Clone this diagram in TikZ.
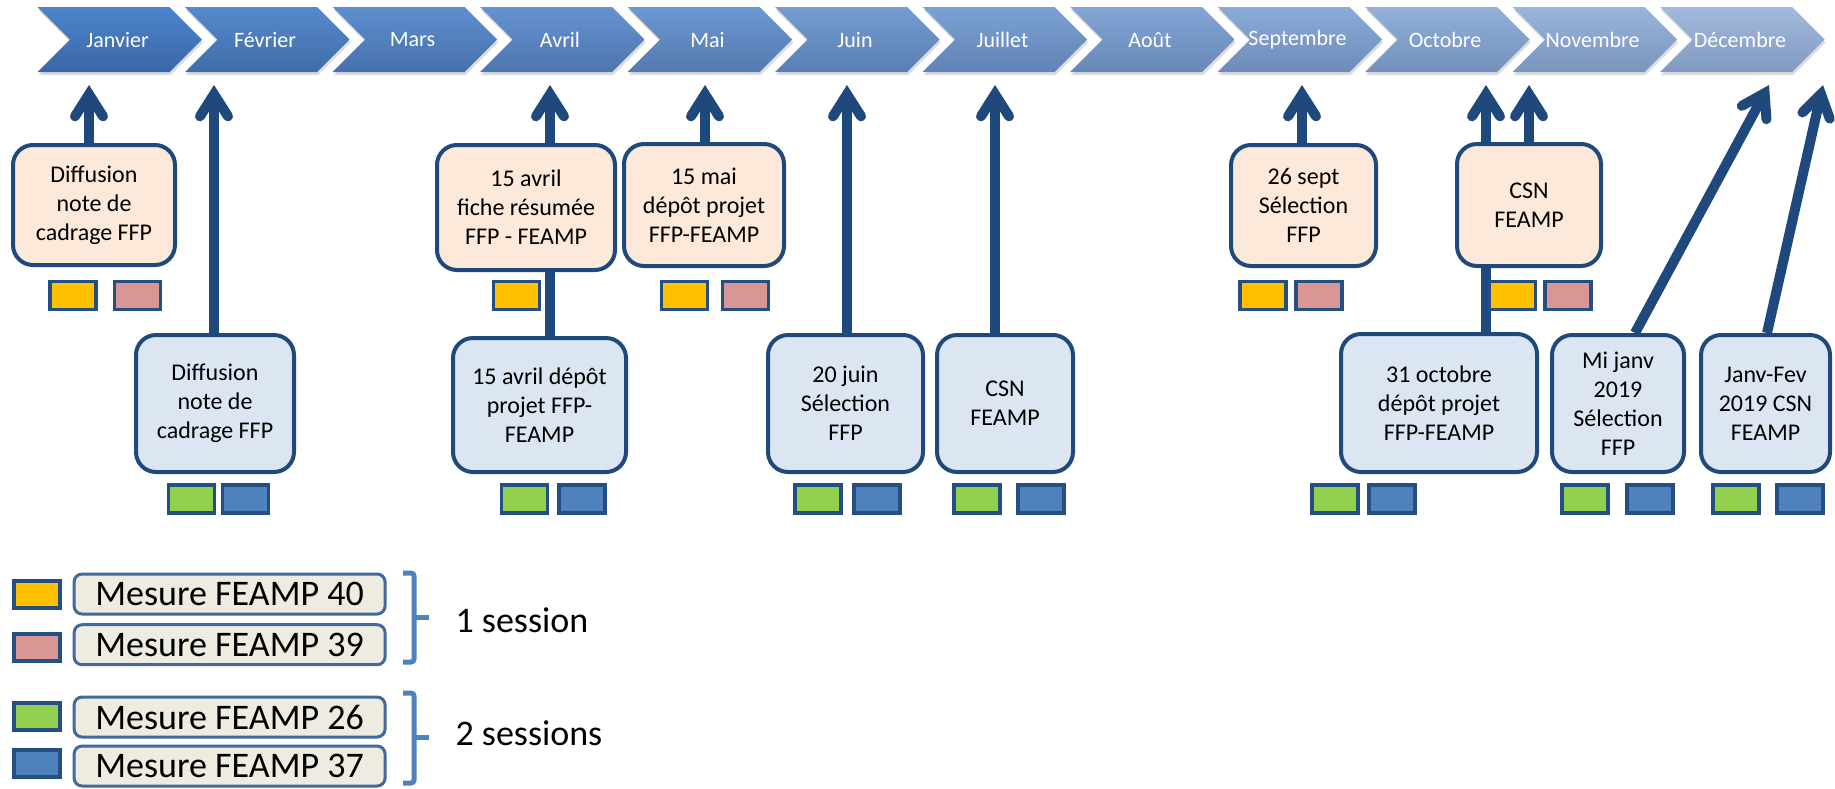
\documentclass[tikz,border=0pt]{standalone}
\usepackage{fontspec}
\setmainfont{Carlito}
\usetikzlibrary{arrows.meta,calc}
\definecolor{navy}{HTML}{1F497D}
\definecolor{peach}{HTML}{FDE9D9}
\definecolor{lblue}{HTML}{DCE6F2}
\definecolor{cyellow}{HTML}{FFC000}
\definecolor{cpink}{HTML}{D99694}
\definecolor{cgreen}{HTML}{92D050}
\definecolor{cblue}{HTML}{4F81BD}
\definecolor{sqborder}{HTML}{254E82}
\definecolor{legfill}{HTML}{EEECE1}
\definecolor{legborder}{HTML}{41699C}
\definecolor{bracecol}{HTML}{4F81BD}
\definecolor{ctopA}{HTML}{4D84CC}
\definecolor{cbotA}{HTML}{3A67A6}
\definecolor{ctopB}{HTML}{A2BADC}
\definecolor{cbotB}{HTML}{8099C0}
\pgfdeclarelayer{bg}
\pgfsetlayers{bg,main}
\begin{document}
\begin{tikzpicture}[x=1pt,y=-1pt,
  box/.style={draw=navy, line width=4pt, rounded corners=20pt, align=center, inner sep=2pt, font=\fontsize{24}{29}\selectfont},
  obox/.style={box, fill=peach},
  bbox/.style={box, fill=lblue},
  sq/.style={draw=sqborder, line width=3.5pt, minimum width=46pt, minimum height=28pt, inner sep=0pt},
  legsq/.style={draw=sqborder, line width=4pt, minimum width=46pt, minimum height=27pt, inner sep=0pt},
  legbox/.style={draw=legborder, fill=legfill, line width=3pt, rounded corners=8pt, minimum width=311pt, minimum height=40pt, inner sep=0pt, font=\fontsize{36}{40}\selectfont},
  month/.style={text=white, font=\fontsize{22}{26}\selectfont},
  arr/.style={draw=navy, line width=10pt, -{Straight Barb[length=22pt, width=28pt, line cap=round, line join=miter]}},
  bracestyle/.style={draw=bracecol, line width=5pt, rounded corners=3pt},
  sess/.style={anchor=west, font=\fontsize{36}{40}\selectfont}
]
\useasboundingbox (0,0) rectangle (1835,788);

% month chevrons
\foreach \m [count=\i from 0] in {Janvier,Février,Mars,Avril,Mai,Juin,Juillet,Août,Septembre,Octobre,Novembre,Décembre} {
  \pgfmathsetmacro{\xo}{37.5+147.5*\i}
  \pgfmathtruncatemacro{\p}{100-\i*100/11}
  \fill[black!14] (\xo+1,10) -- ++(132,0) -- ++(32.5,32.5) -- ++(-32.5,32.5) -- ++(-132,0) -- ++(32.5,-32.5) -- cycle;
  \shade[top color=ctopA!\p!ctopB, bottom color=cbotA!\p!cbotB] (\xo,7) -- ++(132,0) -- ++(32.5,32.5) -- ++(-32.5,32.5) -- ++(-132,0) -- ++(32.5,-32.5) -- cycle;
  \node[month] (m\i) at (\xo+80,40) {\m};
}

% orange boxes
\node[obox, minimum width=162pt, minimum height=120pt] (o1) at (94,205) {Diffusion\\note de\\cadrage FFP};
\node[obox, minimum width=178pt, minimum height=125pt] (o2) at (526,207.5) {15 avril\\fiche résumée\\FFP - FEAMP};
\node[obox, minimum width=160pt, minimum height=122pt] (o3) at (704,205) {15 mai\\dépôt projet\\FFP-FEAMP};
\node[obox, minimum width=145pt, minimum height=121pt] (o4) at (1303.5,205.5) {26 sept\\Sélection\\FFP};
\node[obox, minimum width=144pt, minimum height=122pt] (o5) at (1529,205) {CSN\\FEAMP};

% blue boxes
\node[bbox, minimum width=158pt, minimum height=137pt] (b1) at (215,403.5) {Diffusion\\note de\\cadrage FFP};
\node[bbox, minimum width=173pt, minimum height=134pt] (b2) at (539.5,405) {15 avril dépôt\\projet FFP-\\FEAMP};
\node[bbox, minimum width=155pt, minimum height=137pt] (b3) at (845.5,403.5) {20 juin\\Sélection\\FFP};
\node[bbox, minimum width=136pt, minimum height=137pt] (b4) at (1005,403.5) {CSN\\FEAMP};
\node[bbox, minimum width=196pt, minimum height=138pt] (b5) at (1439,403) {31 octobre\\dépôt projet\\FFP-FEAMP};
\node[bbox, minimum width=132pt, minimum height=137pt] (b6) at (1618,403.5) {Mi janv\\2019\\Sélection\\FFP};
\node[bbox, minimum width=129pt, minimum height=137pt] (b7) at (1765.5,403.5) {Janv-Fev\\2019 CSN\\FEAMP};

% small squares row 1
\node[sq, fill=cyellow] (s1a) at (73,295.5) {};
\node[sq, fill=cpink] (s1b) at (137.5,295.5) {};
\node[sq, fill=cyellow] (s2a) at (516.5,295.5) {};
\node[sq, fill=cyellow] (s3a) at (684.5,295.5) {};
\node[sq, fill=cpink] (s3b) at (745.5,295.5) {};
\node[sq, fill=cyellow] (s4a) at (1263,295.5) {};
\node[sq, fill=cpink] (s4b) at (1319,295.5) {};
\node[sq, fill=cyellow] (s5a) at (1512.5,295.5) {};
\node[sq, fill=cpink] (s5b) at (1568,295.5) {};

% small squares row 2
\node[sq, fill=cgreen] (g1) at (191.5,499) {};
\node[sq, fill=cblue] (u1) at (245.5,499) {};
\node[sq, fill=cgreen] (g2) at (524.5,499) {};
\node[sq, fill=cblue] (u2) at (582,499) {};
\node[sq, fill=cgreen] (g3) at (818,499) {};
\node[sq, fill=cblue] (u3) at (877,499) {};
\node[sq, fill=cgreen] (g4) at (977,499) {};
\node[sq, fill=cblue] (u4) at (1041,499) {};
\node[sq, fill=cgreen] (g5) at (1335,499) {};
\node[sq, fill=cblue] (u5) at (1392,499) {};
\node[sq, fill=cgreen] (g6) at (1585,499) {};
\node[sq, fill=cblue] (u6) at (1650,499) {};
\node[sq, fill=cgreen] (g7) at (1736,499) {};
\node[sq, fill=cblue] (u7) at (1800,499) {};

% arrow tips
\coordinate (t1) at (89,85);
\coordinate (t2) at (214,85);
\coordinate (t3) at (550,85);
\coordinate (t4) at (705,85);
\coordinate (t5) at (847,85);
\coordinate (t6) at (995,85);
\coordinate (t7) at (1302,85);
\coordinate (t8) at (1486,85);
\coordinate (t9) at (1529,85);
\coordinate (t10) at (1769,85);
\coordinate (t11) at (1823,85);

\begin{pgfonlayer}{bg}
\draw[arr] ([xshift=-5pt]o1.north) -- (t1);
\draw[arr] ([xshift=-1pt]b1.north) -- (t2);
\draw[arr] ([xshift=10.5pt]b2.north) -- (t3);
\draw[arr] ([xshift=1pt]o3.north) -- (t4);
\draw[arr] ([xshift=1.5pt]b3.north) -- (t5);
\draw[arr] ([xshift=-10pt]b4.north) -- (t6);
\draw[arr] ([xshift=-1.5pt]o4.north) -- (t7);
\draw[arr] ([xshift=47pt]b5.north) -- (t8);
\draw[arr] (o5.north) -- (t9);
\draw[arr] ([xshift=17pt]b6.north) -- (t10);
\draw[arr] ([xshift=1.5pt]b7.north) -- (t11);
\end{pgfonlayer}

% legend
\node[legsq, fill=cyellow] (l1) at (36.5,594.5) {};
\node[legsq, fill=cpink] (l2) at (36.5,647.5) {};
\node[legsq, fill=cgreen] (l3) at (36.5,716.5) {};
\node[legsq, fill=cblue] (l4) at (36.5,763.5) {};
\node[legbox] (k1) at (229.6,594) {Mesure FEAMP 40};
\node[legbox] (k2) at (229.6,644.7) {Mesure FEAMP 39};
\node[legbox] (k3) at (229.6,717) {Mesure FEAMP 26};
\node[legbox] (k4) at (229.6,766) {Mesure FEAMP 37};

\draw[bracestyle] (403,573) -- (414,573) -- (414,662) -- (403,662);
\draw[bracestyle] (414,617) -- (429,617);
\draw[bracestyle] (403,693) -- (414,693) -- (414,783) -- (403,783);
\draw[bracestyle] (414,737) -- (429,737);

\node[sess] (x1) at (452,620) {1 session};
\node[sess] (x2) at (452,733) {2 sessions};
\end{tikzpicture}
\end{document}
